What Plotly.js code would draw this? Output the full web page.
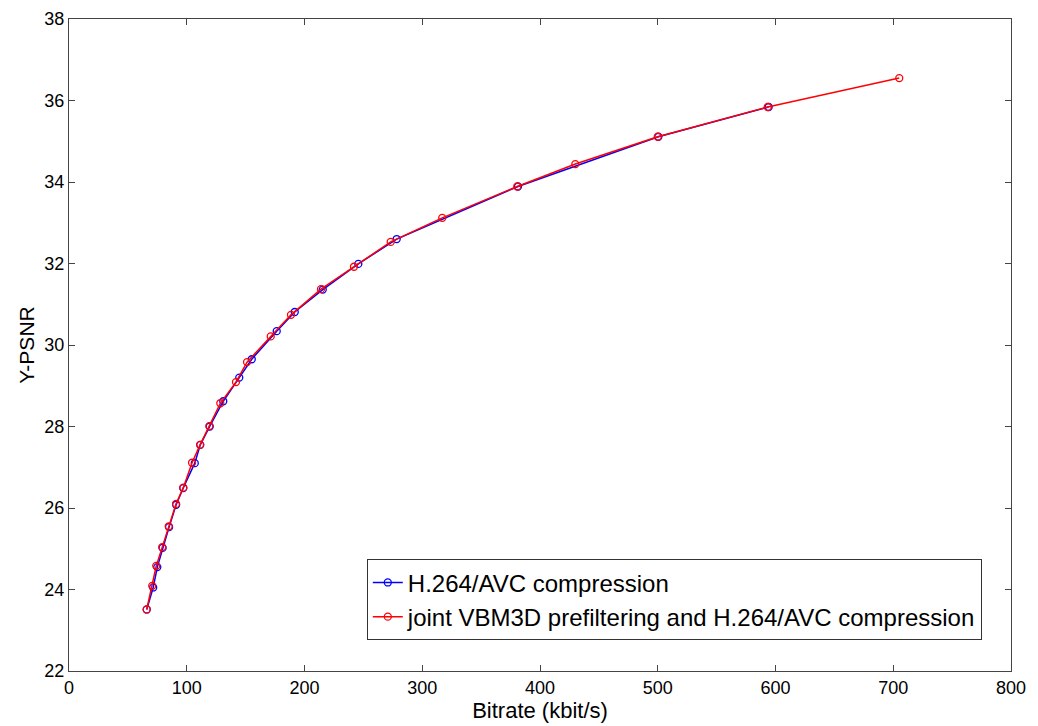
<!DOCTYPE html>
<html>
<head>
<meta charset="utf-8">
<script src="https://cdn.plot.ly/plotly-3.0.1.min.js"></script>
<style>html,body{margin:0;padding:0;background:#fff;}#chart{width:1038px;height:726px;}</style>
</head>
<body>
<div id="chart"></div>
<script>
// H.264/AVC compression
const h264Bitrate = [66.0, 71.5, 75.0, 79.5, 85.0, 91.0, 97.0, 106.8, 111.5, 119.5, 131.0, 144.6, 155.2, 176.4, 191.7, 215.5, 245.7, 278.3, 381.3, 500.5, 594.2];
const h264Psnr    = [23.51, 24.05, 24.55, 25.02, 25.53, 26.08, 26.49, 27.10, 27.55, 28.00, 28.62, 29.20, 29.65, 30.34, 30.81, 31.36, 31.99, 32.60, 33.89, 35.11, 35.84];
// joint VBM3D prefiltering and H.264/AVC compression
const jointBitrate = [66.0, 70.7, 74.1, 79.2, 84.7, 90.9, 97.1, 104.5, 111.3, 119.2, 128.5, 141.8, 151.2, 171.3, 188.5, 214.0, 242.0, 273.2, 317.0, 380.7, 430.0, 500.0, 593.4, 705.1];
const jointPsnr    = [23.51, 24.09, 24.58, 25.04, 25.55, 26.10, 26.50, 27.11, 27.55, 28.01, 28.57, 29.09, 29.58, 30.21, 30.74, 31.37, 31.92, 32.53, 33.12, 33.89, 34.44, 35.11, 35.84, 36.55];

const seriesNames = ['H.264/AVC compression', 'joint VBM3D prefiltering and H.264/AVC compression'];
const xTicks = [0, 100, 200, 300, 400, 500, 600, 700, 800];
const yTicks = [22, 24, 26, 28, 30, 32, 34, 36, 38];

const font = 'Liberation Sans, Arial, sans-serif';

const traces = [
  {
    x: h264Bitrate, y: h264Psnr, name: seriesNames[0], type: 'scatter', mode: 'lines+markers',
    line: {color: '#0000ff', width: 1.5},
    marker: {symbol: 'circle-open', size: 7, color: '#0000ff', line: {width: 1.3, color: '#0000ff'}}
  },
  {
    x: jointBitrate, y: jointPsnr, name: seriesNames[1], type: 'scatter', mode: 'lines+markers',
    line: {color: '#ff0000', width: 1.5},
    marker: {symbol: 'circle-open', size: 7, color: '#ff0000', line: {width: 1.3, color: '#ff0000'}}
  }
];

const axisCommon = {
  showgrid: false, zeroline: false, showline: true, linecolor: '#444', linewidth: 1,
  mirror: 'allticks', ticks: 'inside', ticklen: 6, tickwidth: 1, tickcolor: '#444',
  tickfont: {family: font, size: 18, color: '#000'}
};

const layout = {
  width: 1038, height: 726,
  margin: {l: 69, r: 27, t: 19, b: 55},
  paper_bgcolor: '#fff', plot_bgcolor: '#fff',
  showlegend: true,
  legend: {
    x: 0.969, y: 0.047, xanchor: 'right', yanchor: 'bottom',
    bgcolor: '#fff', bordercolor: '#333', borderwidth: 1,
    font: {family: font, size: 24, color: '#000'},
    tracegroupgap: 0, itemwidth: 30
  },
  xaxis: Object.assign({}, axisCommon, {
    range: [0, 800], tickvals: xTicks, ticktext: xTicks.map(String),
    title: {text: 'Bitrate (kbit/s)', font: {family: font, size: 22, color: '#000'}, standoff: 2}
  }),
  yaxis: Object.assign({}, axisCommon, {
    range: [22, 38], tickvals: yTicks, ticktext: yTicks.map(String),
    title: {text: 'Y-PSNR', font: {family: font, size: 21, color: '#000'}, standoff: 4}
  })
};

Plotly.newPlot('chart', traces, layout, {displayModeBar: false, staticPlot: true});
</script>
</body>
</html>
